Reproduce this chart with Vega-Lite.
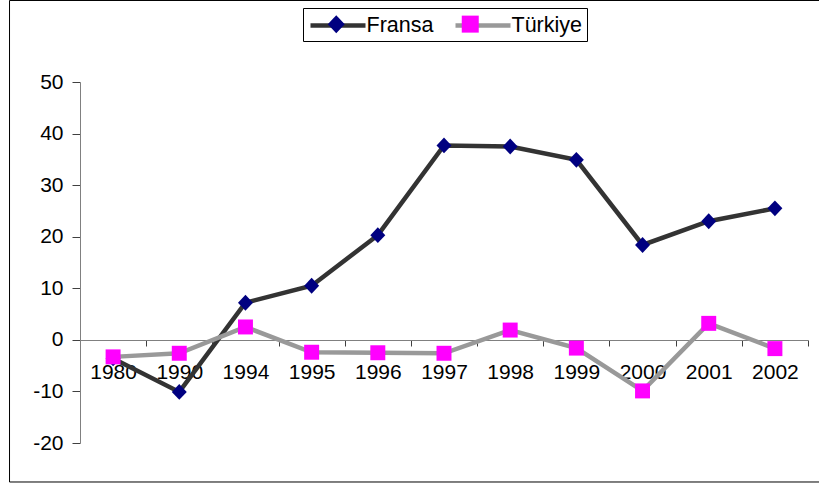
{
  "$schema": "https://vega.github.io/schema/vega-lite/v6.json",
  "width": 728,
  "height": 361,
  "autosize": {"type": "none"},
  "padding": {"left": 80, "top": 82, "right": 11, "bottom": 42},
  "background": "white",
  "config": {"view": {"stroke": null}, "font": "Liberation Sans"},
  "layer": [
    {
      "data": {"values": [{}]},
      "mark": {"type": "rect", "filled": false, "stroke": "black", "strokeWidth": 1},
      "encoding": {
        "x": {"datum": -0.0968, "type": "quantitative", "scale": {"domain": [0, 1], "nice": false, "zero": false}, "axis": null},
        "x2": {"datum": 1.03},
        "y": {"datum": -0.108, "type": "quantitative", "scale": {"domain": [0, 1], "nice": false, "zero": false}, "axis": null},
        "y2": {"datum": 1.2258}
      }
    },
    {
      "data": {
        "values": [
          {"year": "1980", "series": "Fransa", "value": -3.6},
          {"year": "1990", "series": "Fransa", "value": -10.1},
          {"year": "1994", "series": "Fransa", "value": 7.2},
          {"year": "1995", "series": "Fransa", "value": 10.5},
          {"year": "1996", "series": "Fransa", "value": 20.3},
          {"year": "1997", "series": "Fransa", "value": 37.7},
          {"year": "1998", "series": "Fransa", "value": 37.5},
          {"year": "1999", "series": "Fransa", "value": 34.9},
          {"year": "2000", "series": "Fransa", "value": 18.4},
          {"year": "2001", "series": "Fransa", "value": 23.0},
          {"year": "2002", "series": "Fransa", "value": 25.5},
          {"year": "1980", "series": "Türkiye", "value": -3.3},
          {"year": "1990", "series": "Türkiye", "value": -2.6},
          {"year": "1994", "series": "Türkiye", "value": 2.5},
          {"year": "1995", "series": "Türkiye", "value": -2.4},
          {"year": "1996", "series": "Türkiye", "value": -2.5},
          {"year": "1997", "series": "Türkiye", "value": -2.6},
          {"year": "1998", "series": "Türkiye", "value": 1.9},
          {"year": "1999", "series": "Türkiye", "value": -1.6},
          {"year": "2000", "series": "Türkiye", "value": -9.9},
          {"year": "2001", "series": "Türkiye", "value": 3.2},
          {"year": "2002", "series": "Türkiye", "value": -1.7}
        ]
      },
      "encoding": {
        "x": {
          "field": "year",
          "type": "ordinal",
          "sort": null,
          "scale": {"type": "band", "paddingInner": 0, "paddingOuter": 0},
          "axis": {
            "orient": "bottom",
            "offset": -103,
            "title": null,
            "labelAngle": 0,
            "tickBand": "extent",
            "tickSize": 6,
            "labelPadding": 15,
            "labelFont": "Liberation Sans",
            "labelFontSize": 21,
            "labelColor": "black",
            "domainColor": "#808080",
            "tickColor": "#404040",
            "grid": false
          }
        },
        "y": {
          "field": "value",
          "type": "quantitative",
          "scale": {"domain": [-20, 50], "nice": false, "zero": false},
          "axis": {
            "title": null,
            "values": [-20, -10, 0, 10, 20, 30, 40, 50],
            "labelExpr": "'' + datum.value",
            "tickSize": 8,
            "labelPadding": 9,
            "labelFont": "Liberation Sans",
            "labelFontSize": 21,
            "labelColor": "black",
            "domainColor": "#808080",
            "tickColor": "#404040",
            "grid": false
          }
        }
      },
      "layer": [
        {
          "mark": {"type": "line", "strokeWidth": 4.5},
          "encoding": {
            "color": {
              "field": "series",
              "type": "nominal",
              "scale": {"domain": ["Fransa", "Türkiye"], "range": ["#333333", "#999999"]},
              "legend": {
                "orient": "none",
                "legendX": 223,
                "legendY": -74,
                "direction": "horizontal",
                "title": null,
                "symbolType": "M-2.75,0H2.75",
                "symbolSize": 400,
                "symbolStrokeWidth": 4.5,
                "symbolOffset": 17.5,
                "labelOffset": 16,
                "labelFont": "Liberation Sans",
                "labelFontSize": 21.5,
                "labelColor": "black",
                "columnPadding": 12,
                "padding": 5,
                "strokeColor": "black",
                "fillColor": "white"
              }
            }
          }
        },
        {
          "mark": {"type": "point", "filled": true, "size": 310, "opacity": 1, "strokeWidth": 0},
          "encoding": {
            "fill": {
              "field": "series",
              "type": "nominal",
              "scale": {"range": ["#000080", "#FF00FF"]},
              "legend": {
                "orient": "none",
                "legendX": 223,
                "legendY": -74,
                "direction": "horizontal",
                "title": null,
                "symbolSize": 400,
                "symbolStrokeWidth": 0,
                "symbolOffset": 17.5,
                "labelOffset": 16,
                "labelExpr": "''",
                "labelFont": "Liberation Sans",
                "labelFontSize": 21.5,
                "columnPadding": 79,
                "padding": 5
              }
            },
            "shape": {
              "field": "series",
              "type": "nominal",
              "scale": {"range": ["M0,-0.9L0.85,0L0,0.9L-0.85,0Z", "M-0.85,-0.85H0.85V0.85H-0.85Z"]},
              "legend": {
                "orient": "none",
                "legendX": 223,
                "legendY": -74,
                "direction": "horizontal",
                "title": null,
                "symbolSize": 400,
                "symbolStrokeWidth": 0,
                "symbolOffset": 17.5,
                "labelOffset": 16,
                "labelExpr": "''",
                "labelFont": "Liberation Sans",
                "labelFontSize": 21.5,
                "columnPadding": 79,
                "padding": 5
              }
            }
          }
        }
      ]
    }
  ],
  "resolve": {"scale": {"x": "independent", "y": "independent"}}
}
